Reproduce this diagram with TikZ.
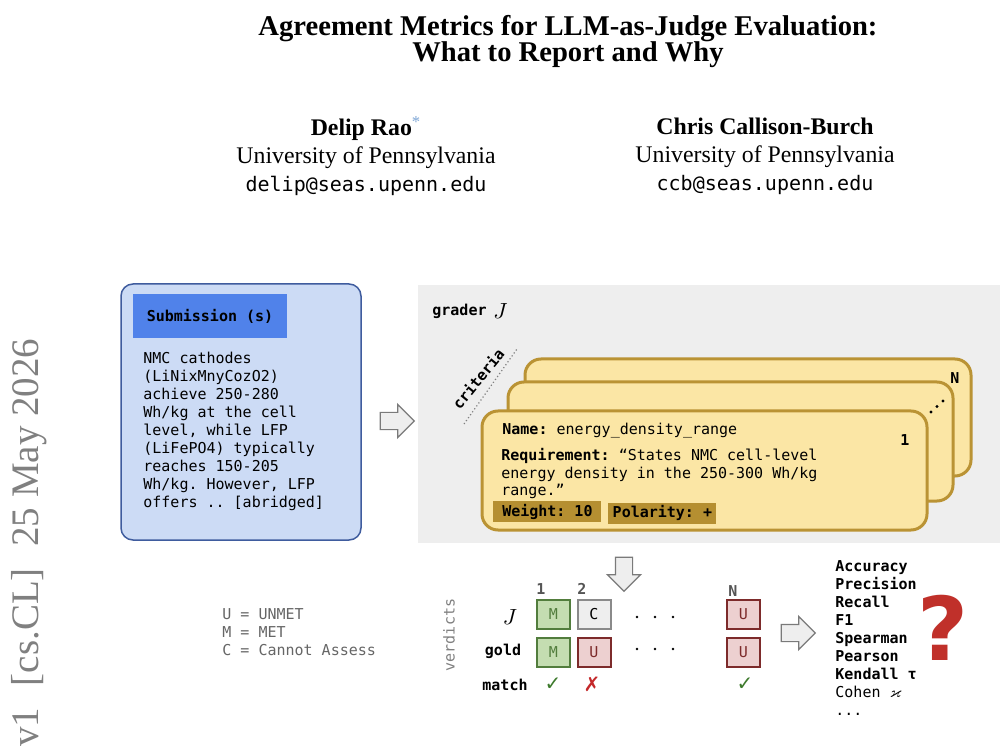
\documentclass[tikz,border=0pt]{standalone}
\usepackage{amssymb}
\usepackage{fontspec}
\setmainfont{Liberation Serif}
\setmonofont{DejaVu Sans Mono}
\newfontfamily\dejavu{DejaVu Sans}
\usetikzlibrary{positioning,shapes.arrows}
\newcommand{\usc}{\char"5F\relax}
\definecolor{subfill}{HTML}{CCDBF5}
\definecolor{subdraw}{HTML}{3F5C9E}
\definecolor{subhead}{HTML}{5082EA}
\definecolor{panel}{HTML}{EEEEEE}
\definecolor{cardfill}{HTML}{FBE6A5}
\definecolor{carddraw}{HTML}{BA9334}
\definecolor{tagfill}{HTML}{B58F31}
\definecolor{metfill}{HTML}{C4DDB1}
\definecolor{metdraw}{HTML}{527D3D}
\definecolor{unmfill}{HTML}{EDD0D0}
\definecolor{unmdraw}{HTML}{7D2B2B}
\definecolor{cadraw}{HTML}{8A8A8A}
\definecolor{okgreen}{HTML}{3D7A2C}
\definecolor{badred}{HTML}{C4282A}
\definecolor{qred}{HTML}{C0302A}
\definecolor{arrowdraw}{HTML}{7A7A7A}
\definecolor{starblue}{HTML}{7FA7D6}
\definecolor{legendgray}{HTML}{666666}
\definecolor{headgray}{HTML}{555555}
\tikzset{
  mono/.style={font=\fontsize{7.5}{9}\selectfont\ttfamily,inner sep=0pt},
  monob/.style={font=\fontsize{7.5}{9}\selectfont\ttfamily\bfseries,inner sep=0pt},
  card/.style={draw=carddraw,fill=cardfill,line width=1.5pt,rounded corners=8pt},
  tag/.style={monob,fill=tagfill,minimum width=54pt,minimum height=10.5pt},
  vbox/.style={mono,draw,line width=1pt,minimum width=16.5pt,minimum height=14.5pt},
  met/.style={vbox,fill=metfill,draw=metdraw,text=metdraw},
  unm/.style={vbox,fill=unmfill,draw=unmdraw,text=unmdraw},
  cna/.style={vbox,fill=panel,draw=cadraw,text=black},
  matchmark/.style={font=\fontsize{10}{12}\selectfont\dejavu,inner sep=0pt},
  blockarrow/.style={single arrow,draw=arrowdraw,fill=panel,line width=0.6pt,
    inner sep=4pt,single arrow head extend=4pt,minimum height=17pt},
  critline/.style={draw=gray,line width=0.6pt,dash pattern=on 0.6pt off 1.2pt},
}

\begin{document}
\begin{tikzpicture}[x=0.5pt,y=-0.5pt]
  \fill[white] (0,0) rectangle (1006,748);
  \useasboundingbox (0,0) rectangle (1006,748);
  % title and authors
  \node[font=\fontsize{14.3}{13.2}\selectfont\bfseries,align=center,anchor=north] (title) at (568,8)
    {Agreement Metrics for LLM-as-Judge Evaluation:\\What to Report and Why};
  \node[font=\fontsize{11.9}{14}\selectfont,align=center] (auth1) at (366,156)
    {\textbf{Delip Rao}\textcolor{starblue}{\textsuperscript{*}}\\University of Pennsylvania\\
     {\fontsize{10}{14}\selectfont\ttfamily delip@seas.upenn.edu}};
  \node[font=\fontsize{11.9}{14}\selectfont,align=center] (auth2) at (765,156)
    {\textbf{Chris Callison-Burch}\\University of Pennsylvania\\
     {\fontsize{10}{14}\selectfont\ttfamily ccb@seas.upenn.edu}};
  \node[font=\fontsize{19.5}{20}\selectfont,text=gray,rotate=90,anchor=base west,inner sep=0pt] (stamp)
    at (38,747) {v1\hspace{0.55em}[cs.CL]\hspace{0.55em}25 May 2026};

  % submission
  \draw[draw=subdraw,fill=subfill,line width=0.75pt,rounded corners=6pt] (121,284) rectangle (361,540);
  \node[monob,fill=subhead,minimum width=77pt,minimum height=22pt] (subhead) at (210,316) {Submission (s)};
  \node[mono,align=left,anchor=north west] (subtext) at (143,352)
    {NMC cathodes\\(LiNixMnyCozO2)\\achieve 250-280\\Wh/kg at the cell\\level, while LFP\\
     (LiFePO4) typically\\reaches 150-205\\Wh/kg. However, LFP\\offers .. [abridged]};
  \node[blockarrow] (arrIn) at (393,421) {};

  % grader panel
  \fill[panel] (418,285) rectangle (1000,543);
  \node[monob,anchor=west] (grader) at (432,311) {grader};
  \node[font=\fontsize{11}{13}\selectfont,inner sep=0pt,right=3pt of grader] (graderJ) {$J$};
  \node[monob,rotate=51] (crit) at (478,379) {criteria};
  \coordinate (critA) at (464,424);
  \coordinate (critB) at (517,349);
  \draw[critline] (critA) -- (critB);
  \draw[card] (525,359) rectangle (971,476);
  \draw[card] (508,382) rectangle (953,501);
  \draw[card] (482,411) rectangle (927,530);
  \node[monob] (cardN) at (955,378) {N};
  \foreach \i in {0,1,2}
    \fill (931+6*\i,412-5.5*\i) circle (0.8pt);
  \node[monob] (card1) at (905,440) {1};
  \node[mono,anchor=west] (crname) at (502,431) {\textbf{Name:} energy\usc density\usc range};
  \node[mono,font=\fontsize{7.5}{8.75}\selectfont\ttfamily,align=left,anchor=north west] (crreq) at (501,448)
    {\textbf{Requirement:} “States NMC cell-level\\energy density in the 250-300 Wh/kg\\range.”};
  \node[tag,anchor=west] (weight) at (493,511.5) {Weight: 10};
  \node[tag,anchor=west] (polarity) at (608,513) {Polarity: +};
  \node[blockarrow,shape border rotate=270] (arrDown) at (624,570) {};

  % verdicts
  \node[mono,text=legendgray,align=left,anchor=north west] (legend) at (222,608)
    {U = UNMET\\M = MET\\C = Cannot Assess};
  \node[mono,text=gray,rotate=90] (verd) at (449,635) {verdicts};
  \node[font=\fontsize{11}{13}\selectfont,inner sep=0pt] (rowJ) at (510,617) {$J$};
  \node[monob] (rowG) at (503,651) {gold};
  \node[monob] (rowM) at (505,685) {match};
  \node[met] (vJ1) at (553.5,614.5) {M};
  \node[cna,right=2.75pt of vJ1] (vJ2) {C};
  \node[unm] (vJN) at (743.5,614.5) {U};
  \node[met,below=3.5pt of vJ1] (vG1) {M};
  \node[unm,below=3.5pt of vJ2] (vG2) {U};
  \node[unm,below=3.5pt of vJN] (vGN) {U};
  \node[monob,text=headgray] (h1) at (541,589) {1};
  \node[monob,text=headgray] (h2) at (582,589) {2};
  \node[monob,text=headgray] (hN) at (733,591) {N};
  \foreach \y in {617,649}
    \foreach \x in {637,655,673}
      \fill (\x,\y) circle (0.7pt);
  \node[matchmark,text=okgreen] (m1) at (553,684) {✓};
  \node[matchmark,text=badred] (m2) at (592,684) {✗};
  \node[matchmark,text=okgreen] (mN) at (745,684) {✓};

  % metrics
  \node[blockarrow] (arrOut) at (794,633) {};
  \node[monob,align=left,anchor=north west] (metrics) at (835,560)
    {Accuracy\\Precision\\Recall\\F1\\Spearman\\Pearson\\Kendall τ\\
     {\mdseries Cohen $\varkappa$}\\{\mdseries ...}};
  \node[font=\fontsize{44}{44}\selectfont\dejavu\bfseries,text=qred,inner sep=0pt] (qmark) at (943,628) {?};
\end{tikzpicture}
\end{document}
